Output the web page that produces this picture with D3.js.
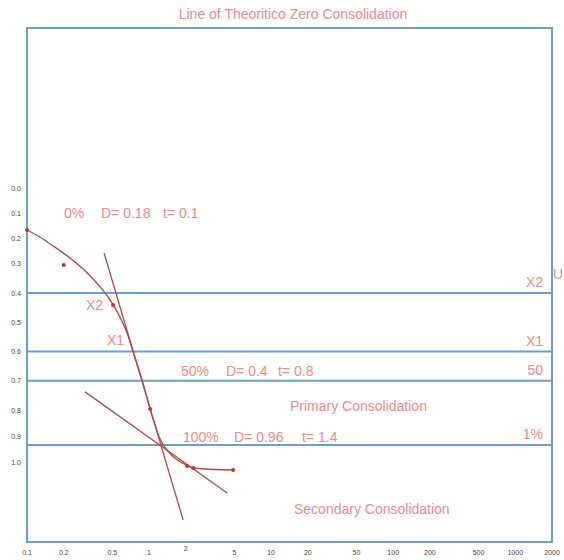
<!DOCTYPE html>
<html><head><meta charset="utf-8">
<script src="https://cdn.jsdelivr.net/npm/d3@7"></script>
<style>
html,body{margin:0;padding:0;background:#fff;overflow:hidden}
text{font-family:"Liberation Sans",Arial,sans-serif}
</style></head>
<body>
<svg id="c" width="564" height="560"></svg>
<script>
// ---- data ----
const xTicks = [0.1, 0.2, 0.5, 1, 2, 5, 10, 20, 50, 100, 200, 500, 1000, 2000];
const xTickLabels = ["0.1","0.2","0.5","1","2","5","10","20","50","100","200","500","1000","2000"];
const yTicks = [0, 0.1, 0.2, 0.3, 0.4, 0.5, 0.6, 0.7, 0.8, 0.9, 1.0];
const yTickLabels = ["0.0","0.1","0.2","0.3","0.4","0.5","0.6","0.7","0.8","0.9","1.0"];

const curveTime   = [0.1, 0.128, 0.163, 0.225, 0.288, 0.348, 0.412, 0.453, 0.507, 0.578, 0.660, 0.739, 0.876, 1.02, 1.12, 1.23, 1.35, 1.57, 2.05, 2.30, 4.88];
const curveSettle = [0.168, 0.197, 0.231, 0.280, 0.320, 0.353, 0.387, 0.409, 0.440, 0.483, 0.536, 0.601, 0.697, 0.797, 0.858, 0.912, 0.944, 0.979, 1.013, 1.023, 1.031];

const pointTime   = [0.1, 0.2, 0.507, 1.02, 2.05, 2.30, 4.88];
const pointSettle = [0.168, 0.307, 0.441, 0.797, 1.015, 1.023, 1.031];

const primaryTangentTime   = [0.428, 1.90];
const primaryTangentSettle = [0.26, 1.223];
const secondaryTangentTime   = [0.299, 4.36];
const secondaryTangentSettle = [0.738, 1.119];

const refLevels = [0.4, 0.6, 0.7, 0.935];
const refLabels = ["X2", "X1", "50", "1%"];

const title = "Line of Theoritico Zero Consolidation";

// ---- drawing ----
const svg = d3.select("#c");
const L = 27, R = 552, T = 28, B = 542;
const x = d3.scaleLog().domain([0.1, 2000]).range([L, R]);
const y = d3.scaleLinear().domain([0, 0.3, 0.4, 0.8, 1.0]).range([188, 263, 293, 410, 462]);

const blue = "#6a9fd3";
const red = "#b24a4a";
const dotRed = "#d42a2a";
const txt = "#ea8a8a";

svg.append("text").attr("x", 293).attr("y", 19).attr("text-anchor", "middle")
  .attr("font-size", 14).attr("fill", txt).text(title);

// reference lines
svg.selectAll("line.ref").data(refLevels).join("line").attr("class", "ref")
  .attr("x1", L).attr("x2", R).attr("y1", d => y(d)).attr("y2", d => y(d))
  .attr("stroke", blue).attr("stroke-width", 2);

// frame
svg.append("rect").attr("x", L).attr("y", T).attr("width", R - L).attr("height", B - T)
  .attr("fill", "none").attr("stroke", blue).attr("stroke-width", 2);

// y tick labels
svg.selectAll("text.yt").data(yTicks).join("text").attr("class", "yt")
  .attr("x", 16).attr("y", d => y(d) + 2.5).attr("text-anchor", "middle")
  .attr("font-size", 7).attr("fill", "#444").text((d, i) => yTickLabels[i]);

// x tick labels
svg.selectAll("text.xt").data(xTicks).join("text").attr("class", "xt")
  .attr("x", d => x(d)).attr("y", d => d === 2 ? 551 : 555).attr("text-anchor", "middle")
  .attr("font-size", 7).attr("fill", "#444").text((d, i) => xTickLabels[i]);

// tangents
const lineGen = d3.line().x(d => x(d[0])).y(d => y(d[1]));
svg.append("path").datum(d3.zip(primaryTangentTime, primaryTangentSettle))
  .attr("d", lineGen).attr("stroke", red).attr("stroke-width", 1.3).attr("fill", "none");
svg.append("path").datum(d3.zip(secondaryTangentTime, secondaryTangentSettle))
  .attr("d", lineGen).attr("stroke", red).attr("stroke-width", 1.3).attr("fill", "none");

// curve
const curveGen = d3.line().x(d => x(d[0])).y(d => y(d[1])).curve(d3.curveMonotoneX);
svg.append("path").datum(d3.zip(curveTime, curveSettle))
  .attr("d", curveGen).attr("stroke", red).attr("stroke-width", 1.4).attr("fill", "none");

// points
svg.selectAll("circle.pt").data(d3.zip(pointTime, pointSettle)).join("circle").attr("class", "pt")
  .attr("cx", d => x(d[0])).attr("cy", d => y(d[1])).attr("r", 2).attr("fill", dotRed);

// right labels
svg.selectAll("text.rl").data(refLevels).join("text").attr("class", "rl")
  .attr("x", 543).attr("y", d => y(d) - 6).attr("text-anchor", "end")
  .attr("font-size", 14).attr("fill", txt).text((d, i) => refLabels[i]);

// annotations
const ann = [
  ["0%", 64, 218], ["D= 0.18", 101, 218], ["t= 0.1", 163, 218],
  ["X2", 86, 310], ["X1", 107, 345],
  ["50%", 181, 376], ["D= 0.4", 226, 376], ["t= 0.8", 278, 376],
  ["100%", 183, 442], ["D= 0.96", 234, 442], ["t= 1.4", 302, 442],
  ["Primary Consolidation", 290, 411],
  ["Secondary Consolidation", 294, 514],
  ["U", 553, 279]
];
svg.selectAll("text.ann").data(ann).join("text").attr("class", "ann")
  .attr("x", d => d[1]).attr("y", d => d[2]).attr("font-size", 14).attr("fill", txt)
  .text(d => d[0]);
</script>
</body></html>
